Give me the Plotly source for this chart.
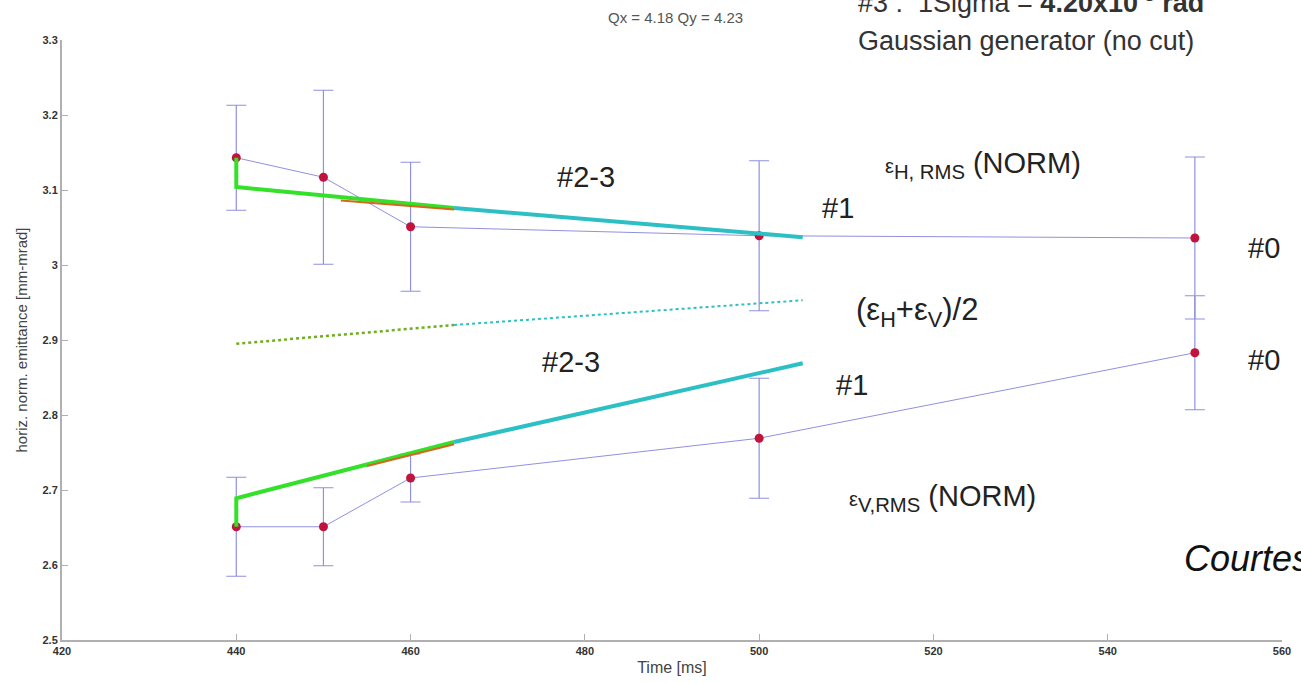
import plotly.graph_objects as go

# ---- data ----
time_ms = [440, 450, 460, 500, 550]
eps_h = [3.143, 3.117, 3.051, 3.039, 3.036]
eps_h_err = [0.070, 0.116, 0.086, 0.100, 0.108]
eps_v = [2.651, 2.651, 2.716, 2.769, 2.883]
eps_v_err = [0.066, 0.052, 0.032, 0.080, 0.076]

# simulation fits (#2-3 green / orange, #1 cyan)
fit_h_23_x = [440, 440, 465]
fit_h_23_y = [3.143, 3.104, 3.076]
fit_h_23r_x = [452, 465]
fit_h_23r_y = [3.086, 3.074]
fit_h_1_x = [465, 505]
fit_h_1_y = [3.076, 3.037]

fit_v_23_x = [440, 440, 465]
fit_v_23_y = [2.651, 2.689, 2.764]
fit_v_23r_x = [455, 465]
fit_v_23r_y = [2.732, 2.761]
fit_v_1_x = [465, 505]
fit_v_1_y = [2.764, 2.869]

avg_23_x = [440, 465]
avg_23_y = [2.895, 2.920]
avg_1_x = [465, 505]
avg_1_y = [2.920, 2.953]

x_ticks = [420, 440, 460, 480, 500, 520, 540, 560]
y_ticks = [2.5, 2.6, 2.7, 2.8, 2.9, 3.0, 3.1, 3.2, 3.3]
y_tick_text = ["2.5", "2.6", "2.7", "2.8", "2.9", "3", "3.1", "3.2", "3.3"]

LAV = "#9090e0"
RED = "#c0143c"
GREEN = "#35e02a"
ORANGE = "#d2691e"
CYAN = "#2cbfc4"
FONT = "Liberation Sans, Arial"

fig = go.Figure()

for ys, errs in [(eps_h, eps_h_err), (eps_v, eps_v_err)]:
    fig.add_trace(go.Scatter(
        x=time_ms, y=ys, mode="lines+markers",
        line=dict(color=LAV, width=1),
        marker=dict(color=RED, size=9),
        error_y=dict(type="data", array=errs, visible=True,
                     color=LAV, thickness=1.2, width=10),
        showlegend=False, hoverinfo="skip"))

for xs, ys, col, w, dash in [
    (fit_h_23_x, fit_h_23_y, GREEN, 4, "solid"),
    (fit_h_23r_x, fit_h_23r_y, ORANGE, 2, "solid"),
    (fit_h_1_x, fit_h_1_y, CYAN, 4, "solid"),
    (fit_v_23_x, fit_v_23_y, GREEN, 4, "solid"),
    (fit_v_23r_x, fit_v_23r_y, ORANGE, 2, "solid"),
    (fit_v_1_x, fit_v_1_y, CYAN, 4, "solid"),
    (avg_23_x, avg_23_y, "#6fae1e", 2.5, "dot"),
    (avg_1_x, avg_1_y, CYAN, 2, "dot"),
]:
    fig.add_trace(go.Scatter(x=xs, y=ys, mode="lines",
                             line=dict(color=col, width=w, dash=dash),
                             showlegend=False, hoverinfo="skip"))

W, H = 1301, 684
L_M, R_M, T_M, B_M = 62, 10, 40, 44
X0, X1 = L_M, W - R_M
Y0, Y1 = T_M, H - B_M

TXT = "#222222"
lay_ann = []

def T(xp, yp, text, size=20, color=TXT, xanchor="left", italic=False):
    t = f"<i>{text}</i>" if italic else text
    lay_ann.append(dict(x=(xp - X0) / (X1 - X0), y=(Y1 - yp) / (Y1 - Y0),
                        text=t, showarrow=False,
                        xanchor=xanchor, yanchor="middle",
                        xref="x domain", yref="y domain",
                        font=dict(size=size, color=color, family=FONT)))

T(680, 17, "Qx = 4.18 Qy = 4.23", size=15, color="#555555", xanchor="center")
T(862, 1, "#3 :  1Sigma = <b>4.20x10<sup>-3</sup> rad</b>", size=27, color="#333333")
T(862, 41, "Gaussian generator (no cut)", size=27, color="#333333")
T(559, 177, "#2-3", size=29)
T(889, 165, "<span style='font-size:20px'>ε</span><sub>H, RMS</sub> (NORM)", size=29)
T(826, 208, "#1", size=29)
T(1255, 248, "#0", size=29)
T(860, 312, "(ε<sub>H</sub>+ε<sub>V</sub>)/2", size=31)
T(544, 362, "#2-3", size=29)
T(840, 385, "#1", size=29)
T(1255, 360, "#0", size=29)
T(853, 498, "<span style='font-size:20px'>ε</span><sub>V,RMS</sub> (NORM)", size=29)
T(1190, 558, "Courtesy", size=36, color="#111111", italic=True)

fig.update_layout(
    width=W, height=H,
    margin=dict(l=L_M, r=R_M, t=T_M, b=B_M),
    plot_bgcolor="white", paper_bgcolor="white",
    annotations=lay_ann,
    xaxis=dict(range=[420, 560], tickvals=x_ticks,
               ticktext=[f"<b>{v}</b>" for v in x_ticks],
               showgrid=False, zeroline=False, showline=True,
               linecolor="#b0b0b0", linewidth=2, ticks="inside", ticklen=6,
               tickcolor="#b0b0b0", tickfont=dict(size=11, color="#333333", family=FONT),
               title=dict(text="Time [ms]", font=dict(size=16, color="#444444", family=FONT),
                          standoff=6)),
    yaxis=dict(range=[2.5, 3.3], tickvals=y_ticks,
               ticktext=[f"<b>{t}</b>" for t in y_tick_text],
               showgrid=False, zeroline=False, showline=True,
               linecolor="#b0b0b0", linewidth=2, ticks="inside", ticklen=6,
               tickcolor="#b0b0b0", tickfont=dict(size=11, color="#333333", family=FONT),
               title=dict(text="horiz. norm. emittance [mm-mrad]",
                          font=dict(size=15, color="#444444", family=FONT),
                          standoff=11)),
)

fig.write_html("out.html")
